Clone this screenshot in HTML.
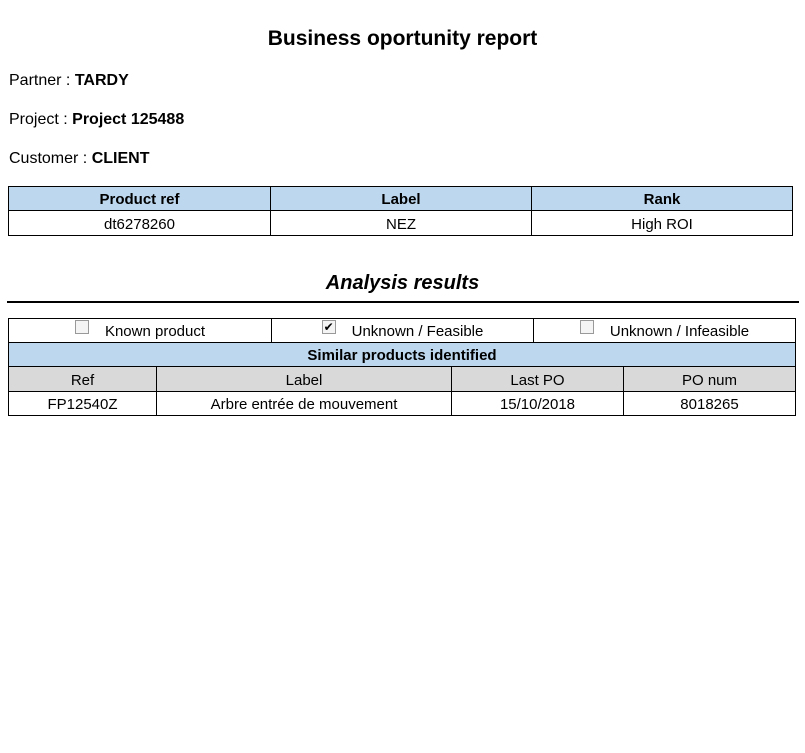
<!DOCTYPE html>
<html><head><meta charset="utf-8"><style>
body{margin:0;width:805px;height:753px;background:#fff;font-family:"Liberation Sans",sans-serif;color:#000;position:relative;overflow:hidden}
.a{position:absolute}
.c{position:absolute;box-sizing:border-box;border:1px solid #000;text-align:center;font-size:15px;display:flex;align-items:center;justify-content:center;padding-top:2px}
.b{font-weight:bold}
.blue{background:#bdd7ee}
.gray{background:#d9d9d9}
.cb{display:inline-block;width:12px;height:12px;border:1px solid #999;background:#f4f4f4;margin-right:16px;position:relative;top:-5px;font-size:12px;line-height:12px;text-align:center}
</style></head><body>
<div class="a b" style="left:0;width:805px;top:27px;text-align:center;font-size:21px">Business oportunity report</div>
<div class="a" style="left:9px;top:72px;font-size:16px">Partner : <b>TARDY</b></div>
<div class="a" style="left:9px;top:111px;font-size:16px">Project : <b>Project 125488</b></div>
<div class="a" style="left:9px;top:150px;font-size:16px">Customer : <b>CLIENT</b></div>

<div>
<div class="c b blue" style="left:8px;top:186px;width:263px;height:25px">Product ref</div>
<div class="c b blue" style="left:270px;top:186px;width:262px;height:25px">Label</div>
<div class="c b blue" style="left:531px;top:186px;width:262px;height:25px">Rank</div>
<div class="c" style="left:8px;top:210px;width:263px;height:26px">dt6278260</div>
<div class="c" style="left:270px;top:210px;width:262px;height:26px">NEZ</div>
<div class="c" style="left:531px;top:210px;width:262px;height:26px">High ROI</div>
</div>

<div class="a b" style="left:0;width:805px;top:272px;text-align:center;font-size:20px;font-style:italic">Analysis results</div>
<div class="a" style="left:7px;top:301px;width:792px;height:2px;background:#000"></div>

<div>
<div class="c" style="left:8px;top:318px;width:264px;height:25px"><span class="cb"></span>Known product</div>
<div class="c" style="left:271px;top:318px;width:263px;height:25px"><span class="cb">✔</span>Unknown / Feasible</div>
<div class="c" style="left:533px;top:318px;width:263px;height:25px"><span class="cb"></span>Unknown / Infeasible</div>
<div class="c b blue" style="left:8px;top:342px;width:788px;height:25px">Similar products identified</div>
<div class="c gray" style="left:8px;top:366px;width:149px;height:26px">Ref</div>
<div class="c gray" style="left:156px;top:366px;width:296px;height:26px">Label</div>
<div class="c gray" style="left:451px;top:366px;width:173px;height:26px">Last PO</div>
<div class="c gray" style="left:623px;top:366px;width:173px;height:26px">PO num</div>
<div class="c" style="left:8px;top:391px;width:149px;height:25px">FP12540Z</div>
<div class="c" style="left:156px;top:391px;width:296px;height:25px">Arbre entrée de mouvement</div>
<div class="c" style="left:451px;top:391px;width:173px;height:25px">15/10/2018</div>
<div class="c" style="left:623px;top:391px;width:173px;height:25px">8018265</div>
</div>
</body></html>
